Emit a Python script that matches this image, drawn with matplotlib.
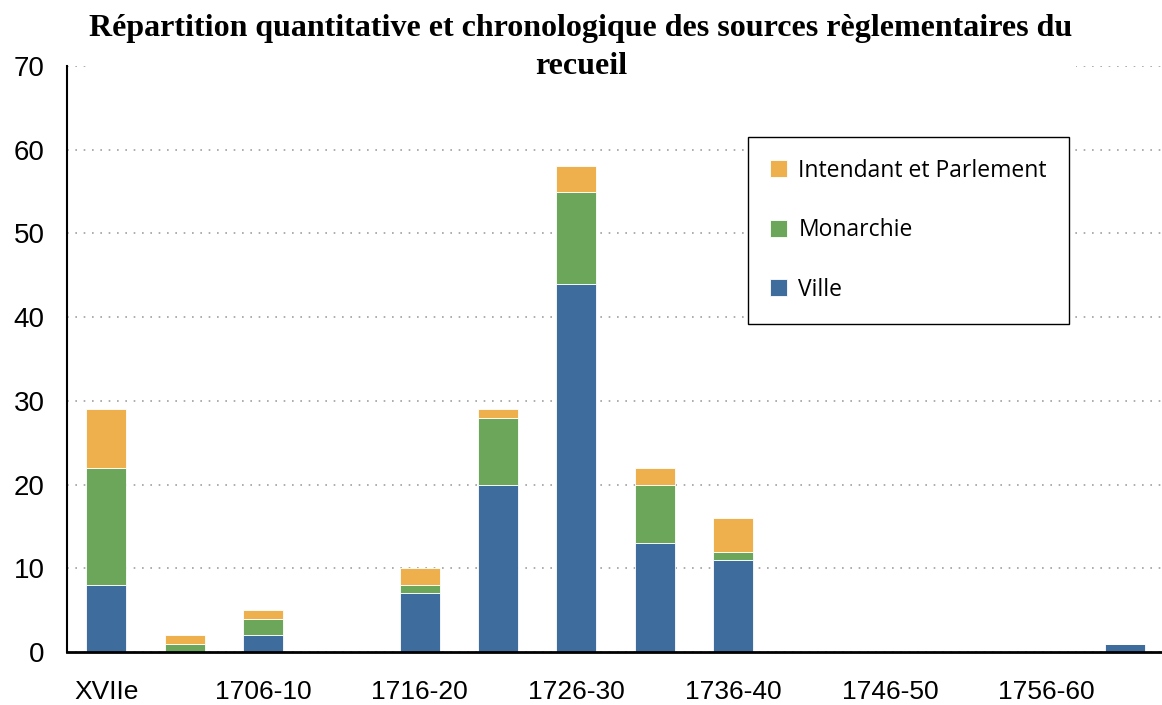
import numpy as np
import matplotlib
matplotlib.use('Agg')
import matplotlib.pyplot as plt

# data
periodes = ['XVIIe', '1701-05', '1706-10', '1711-15', '1716-20', '1721-25',
            '1726-30', '1731-35', '1736-40', '1741-45', '1746-50', '1751-55',
            '1756-60', '1761-65']
ville = [8, 0, 2, 0, 7, 20, 44, 13, 11, 0, 0, 0, 0, 1]
monarchie = [14, 1, 2, 0, 1, 8, 11, 7, 1, 0, 0, 0, 0, 0]
intendant = [7, 1, 1, 0, 2, 1, 3, 2, 4, 0, 0, 0, 0, 0]

titre = u'Répartition quantitative et chronologique des sources règlementaires du\nrecueil'

c_ville = '#3d6c9d'
c_mon = '#6ca65a'
c_int = '#eeb04c'

fig = plt.figure(figsize=(11.62, 7.05), dpi=100)
ax = fig.add_axes([67 / 1162., 53 / 705., 1 - 67 / 1162., (652 - 66) / 705.])

x = np.arange(len(periodes))
w = 0.51
v = np.array(ville)
m = np.array(monarchie)
i = np.array(intendant)
b1 = ax.bar(x, v, w, color=c_ville, edgecolor='white', linewidth=0.6, zorder=3, label='Ville')
b2 = ax.bar(x, m, w, bottom=v, color=c_mon, edgecolor='white', linewidth=0.6, zorder=3, label='Monarchie')
b3 = ax.bar(x, i, w, bottom=v + m, color=c_int, edgecolor='white', linewidth=0.6, zorder=3,
            label='Intendant et Parlement')

ax.set_xlim(-0.5, len(periodes) - 0.53)
ax.set_ylim(0, 70)
ax.set_yticks(range(0, 71, 10))
ax.yaxis.grid(True, linestyle=(0, (1, 4)), color='#a0a0a0', linewidth=1.2, zorder=0)
ax.set_axisbelow(True)

# Excel style: only one label out of two
ax.set_xticks(x)
ax.set_xticklabels([p if k % 2 == 0 else '' for k, p in enumerate(periodes)],
                   fontfamily='Liberation Sans', fontsize=19)
for t in ax.get_yticklabels():
    t.set_fontfamily('Liberation Sans')
    t.set_fontsize(20)
ax.tick_params(axis='both', length=0)
ax.tick_params(axis='x', pad=20)
ax.tick_params(axis='y', pad=16)

for s in ['top', 'right']:
    ax.spines[s].set_visible(False)
ax.spines['left'].set_linewidth(1.5)
ax.spines['bottom'].set_linewidth(2.0)
ax.spines['bottom'].set_zorder(5)

leg = ax.legend(handles=[b3, b2, b1], loc='upper left',
                bbox_to_anchor=(681 / 1095., (652 - 137) / 586.),
                frameon=True, fancybox=False, edgecolor='black', framealpha=1,
                prop={'family': 'Open Sans', 'size': 16.5}, labelspacing=1.55,
                handlelength=0.75, handleheight=0.75, handletextpad=0.5,
                borderpad=0.95, borderaxespad=0)
leg.get_frame().set_linewidth(1.0)
leg.set_zorder(10)

fig.text(0.5, 0.98, titre, ha='center', va='top', fontfamily='Liberation Serif',
         fontweight='bold', fontsize=23, linespacing=1.4, zorder=20,
         bbox=dict(facecolor='white', edgecolor='none', pad=2))

plt.savefig('out.png', dpi=100)
